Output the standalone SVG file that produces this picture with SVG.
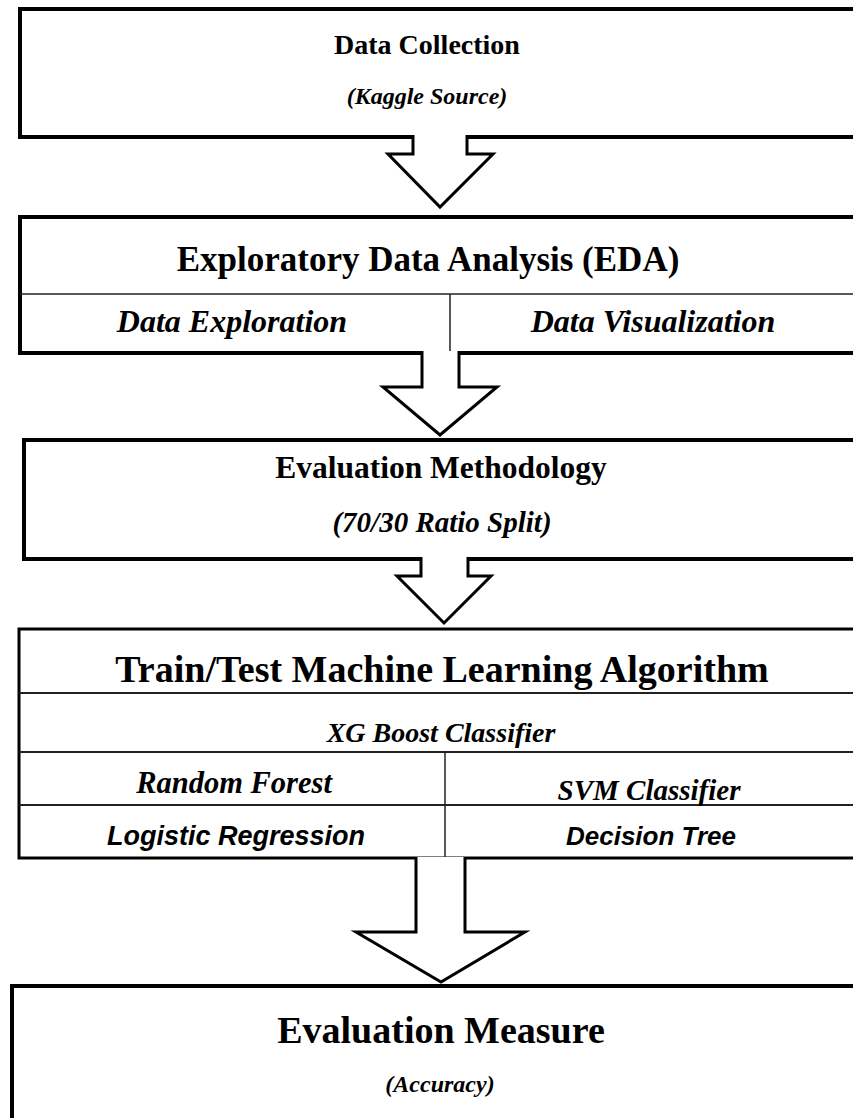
<svg xmlns="http://www.w3.org/2000/svg" width="853" height="1118" viewBox="0 0 853 1118">
<style>
.box{fill:#fff;stroke:#000;stroke-width:4}
.div{stroke:#222;stroke-width:1.5;fill:none}
.arr{fill:#fff;stroke:#000;stroke-width:3;stroke-linejoin:miter}
text{text-anchor:middle;fill:#000;font-weight:bold}
.i{font-style:italic}
</style>
<rect x="0" y="0" width="853" height="1118" fill="#fff"/>
<g font-family="Liberation Serif, Times New Roman, serif">
<g id="n1">
<rect class="box" x="20" y="9" width="860" height="128"/>
<text x="427" y="54" font-size="28">Data Collection</text>
<text class="i" x="427" y="104" font-size="24">(Kaggle Source)</text>
</g>
<g id="n2">
<rect class="box" x="20" y="217" width="860" height="136"/>
<line class="div" x1="20" y1="294" x2="880" y2="294"/>
<line class="div" x1="450" y1="294" x2="450" y2="353"/>
<text x="428" y="271" font-size="35">Exploratory Data Analysis (EDA)</text>
<text class="i" x="232" y="332" font-size="32">Data Exploration</text>
<text class="i" x="653" y="332" font-size="32">Data Visualization</text>
</g>
<g id="n3">
<rect class="box" x="24" y="440" width="860" height="119"/>
<text x="441" y="478" font-size="31.5">Evaluation Methodology</text>
<text class="i" x="442" y="532" font-size="29">(70/30 Ratio Split)</text>
</g>
<g id="n4">
<rect class="box" x="19" y="629" width="860" height="229" style="stroke-width:3"/>
<line class="div" x1="19" y1="693" x2="880" y2="693" style="stroke-width:2"/>
<line class="div" x1="19" y1="752" x2="880" y2="752" style="stroke-width:2"/>
<line class="div" x1="19" y1="805" x2="880" y2="805" style="stroke-width:2"/>
<line class="div" x1="445" y1="752" x2="445" y2="858"/>
<text x="442" y="682" font-size="38">Train/Test Machine Learning Algorithm</text>
<text class="i" x="441" y="742" font-size="28">XG Boost Classifier</text>
<text class="i" x="234" y="793" font-size="30.5">Random Forest</text>
<text class="i" x="649" y="800" font-size="29">SVM Classifier</text>
<text class="i" x="236" y="845" font-size="27" font-family="Liberation Sans, Arial, sans-serif">Logistic Regression</text>
<text class="i" x="651" y="845" font-size="26" font-family="Liberation Sans, Arial, sans-serif">Decision Tree</text>
</g>
<g id="n5">
<rect class="box" x="12" y="986" width="870" height="200"/>
<text x="441" y="1043" font-size="38">Evaluation Measure</text>
<text class="i" x="440" y="1092" font-size="24">(Accuracy)</text>
</g>
</g>
<g id="connectors">
<path class="arr" d="M413,135 V154 H388 L440,207 L493,154 H467 V135"/>
<path class="arr" d="M422,351 V387 H383 L440,435 L497,387 H459 V351"/>
<path class="arr" d="M421,557 V576 H397 L444,623 L491,576 H468 V557"/>
<path class="arr" d="M416,857 V932 H356 L441,982 L525,932 H465 V857"/>
</g>
</svg>
